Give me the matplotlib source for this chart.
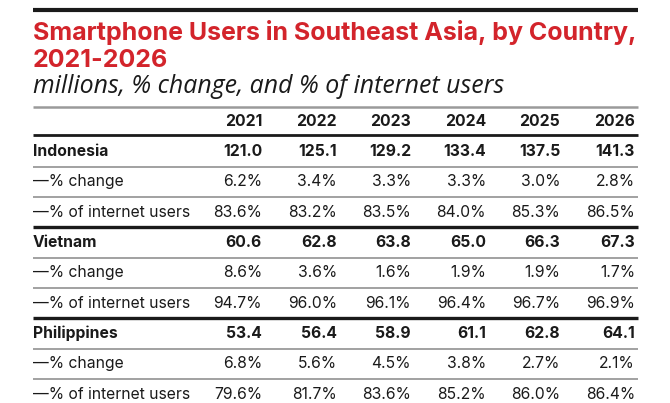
import matplotlib
matplotlib.use("Agg")
import matplotlib.pyplot as plt
from matplotlib.lines import Line2D

years = ["2021", "2022", "2023", "2024", "2025", "2026"]
countries = ["Indonesia", "Vietnam", "Philippines"]
users = {
    "Indonesia": [121.0, 125.1, 129.2, 133.4, 137.5, 141.3],
    "Vietnam": [60.6, 62.8, 63.8, 65.0, 66.3, 67.3],
    "Philippines": [53.4, 56.4, 58.9, 61.1, 62.8, 64.1],
}
pct_change = {
    "Indonesia": [6.2, 3.4, 3.3, 3.3, 3.0, 2.8],
    "Vietnam": [8.6, 3.6, 1.6, 1.9, 1.9, 1.7],
    "Philippines": [6.8, 5.6, 4.5, 3.8, 2.7, 2.1],
}
pct_internet = {
    "Indonesia": [83.6, 83.2, 83.5, 84.0, 85.3, 86.5],
    "Vietnam": [94.7, 96.0, 96.1, 96.4, 96.7, 96.9],
    "Philippines": [79.6, 81.7, 83.6, 85.2, 86.0, 86.4],
}
title_lines = ["Smartphone Users in Southeast Asia, by Country,", "2021-2026"]
subtitle = "millions, % change, and % of internet users"

W, H = 670, 403
fig = plt.figure(figsize=(W / 100, H / 100), dpi=100)
fig.patch.set_facecolor("white")
renderer = fig.canvas.get_renderer()

def fx(x):
    return x / W

def fy(y):
    return 1 - y / H

def hline(y, color, lw):
    fig.add_artist(Line2D([fx(33), fx(638)], [fy(y), fy(y)], color=color, lw=lw,
                          transform=fig.transFigure, solid_capstyle="butt"))

def fit_size(txt, target_px):
    w = txt.get_window_extent(renderer).width
    txt.set_fontsize(txt.get_fontsize() * target_px / w)

FONT = "Inter"
RED = "#d3242b"
DARK = "#1a1a1a"
GRAY = "#9a9a9a"

hline(10, DARK, 3.0)
t1 = fig.text(fx(33), fy(40), title_lines[0], color=RED,
              fontsize=17.9, fontweight="bold", family=FONT, va="baseline", ha="left")
fit_size(t1, 603)
fig.text(fx(33), fy(67), title_lines[1], color=RED,
         fontsize=t1.get_fontsize(), fontweight="bold", family=FONT,
         va="baseline", ha="left")
st = fig.text(fx(33), fy(93), subtitle, color=DARK, fontsize=15, style="italic",
              family="Open Sans", va="baseline", ha="left")
fit_size(st, 470)
hline(106.5, GRAY, 1.8)

col_right = [262, 337, 411, 486, 560, 635]
row_h = 30.35
y0 = 121
TS = 11.3

for j, yr in enumerate(years):
    fig.text(fx(col_right[j]), fy(y0), yr, fontsize=TS, fontweight="bold", family=FONT,
             color=DARK, ha="right", va="center")
hline(y0 + 14, DARK, 2.0)

r = 1
for ci, c in enumerate(countries):
    rows = [
        (c, [f"{v:.1f}" for v in users[c]], True),
        ("\u2014% change", [f"{v:.1f}%" for v in pct_change[c]], False),
        ("\u2014% of internet users", [f"{v:.1f}%" for v in pct_internet[c]], False),
    ]
    for k, (label, vals, bold) in enumerate(rows):
        y = y0 + r * row_h
        w = "bold" if bold else "normal"
        fig.text(fx(33), fy(y), label, fontsize=TS, fontweight=w,
                 family=FONT, color=DARK, ha="left", va="center")
        for j, v in enumerate(vals):
            fig.text(fx(col_right[j]), fy(y), v, fontsize=TS, fontweight=w, family=FONT,
                     color=DARK, ha="right", va="center")
        if not (ci == len(countries) - 1 and k == 2):
            if k == 2:
                hline(y + row_h / 2, DARK, 2.4)
            else:
                hline(y + row_h / 2, GRAY, 1.3)
        r += 1

fig.savefig("out.png", dpi=100)
